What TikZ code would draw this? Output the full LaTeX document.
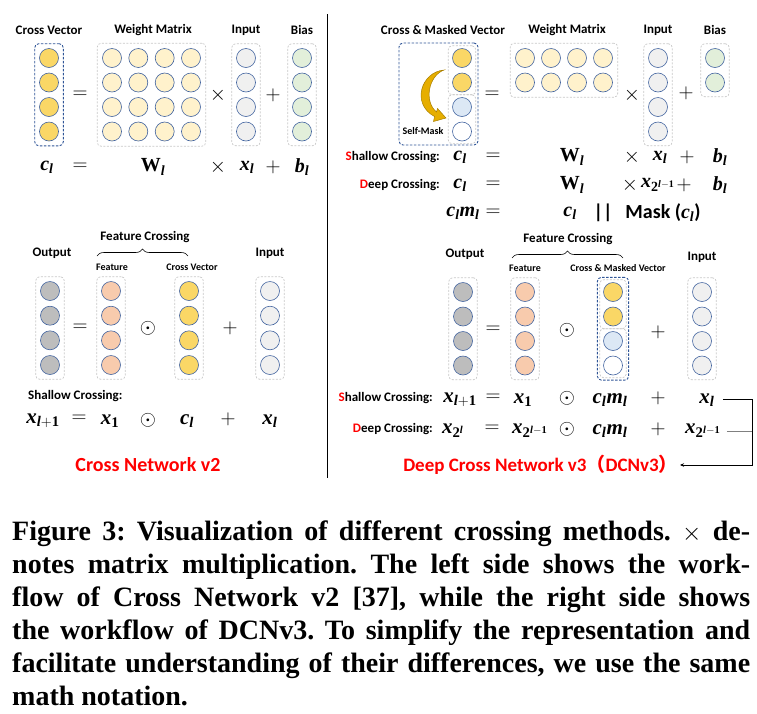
\documentclass[tikz,border=0pt]{standalone}
\usepackage{fontspec}
\setmainfont{Liberation Serif}
\newfontfamily\carl{Carlito}
\newfontfamily\cjkf{Noto Sans CJK SC}
\newfontfamily\bifam{Liberation Serif Bold Italic}[NFSSFamily=libbi]
\newfontfamily\bffam{Liberation Serif Bold}[NFSSFamily=libbf]
\DeclareMathAlphabet{\mathbi}{TU}{libbi}{m}{n}
\DeclareMathAlphabet{\mathbu}{TU}{libbf}{m}{n}
\newcommand\bi[1]{\mathbi{#1}}
\newcommand\bu[1]{\mathbu{#1}}
\usetikzlibrary{fit,arrows.meta,decorations.pathreplacing}
\definecolor{cgold}{HTML}{FAD766}
\definecolor{cwt}{HTML}{FFF2CC}
\definecolor{cin}{HTML}{F0F0F0}
\definecolor{cbias}{HTML}{E2EFDA}
\definecolor{cout}{HTML}{BDBDBD}
\definecolor{cfeat}{HTML}{F8CBAD}
\definecolor{cmask}{HTML}{DCE8F5}
\definecolor{cborder}{HTML}{41639F}
\definecolor{boxgray}{HTML}{C8C8C8}
\definecolor{boxblue}{HTML}{2F5597}
\definecolor{cred}{HTML}{FF0000}
\definecolor{arrgold}{HTML}{E6AE00}
\definecolor{arrdark}{HTML}{A87E00}
\begin{document}
\begin{tikzpicture}[x=1pt,y=-1pt,
  circ/.style={circle, draw=cborder, line width=0.6pt, minimum size=19pt, inner sep=0pt},
  gbox/.style={draw=boxgray, dash pattern=on 2pt off 1.5pt, rounded corners=4pt, line width=0.7pt},
  bbox/.style={draw=boxblue, dash pattern=on 2.5pt off 1.5pt, rounded corners=4pt, line width=0.9pt},
  lbl/.style={font=\carl\bfseries\fontsize{13}{15}\selectfont, inner sep=0pt},
  slbl/.style={font=\carl\bfseries\fontsize{10}{12}\selectfont, inner sep=0pt},
  op/.style={font=\fontsize{22}{24}\selectfont, inner sep=0pt},
  eq/.style={font=\fontsize{20}{22}\selectfont, inner sep=0pt},
  eqb/.style={font=\fontsize{21}{23}\selectfont, inner sep=0pt},
  ttl/.style={font=\carl\bfseries\fontsize{20}{24}\selectfont, text=cred, inner sep=0pt},
  conn/.style={line width=0.8pt, draw=black},
  brc/.style={decorate, decoration={brace, amplitude=7pt}, line width=0.6pt}
]
\useasboundingbox (0,0) rectangle (757,713);

% ---------------- top left ----------------
\node[lbl] (tl1) at (49,30) {Cross Vector};
\node[lbl] (tl2) at (153,30) {Weight Matrix};
\node[lbl] (tl3) at (246,30) {Input};
\node[lbl] (tl4) at (302,30) {Bias};
\foreach \i/\yy in {1/58,2/82.5,3/107,4/131.5} {
  \node[circ, fill=cgold] (tc\i) at (49,\yy) {};
  \foreach \j/\xx in {1/112,2/138.3,3/164.7,4/191} {
    \node[circ, fill=cwt] (tw\i-\j) at (\xx,\yy) {};
  }
  \node[circ, fill=cin] (ti\i) at (246,\yy) {};
  \node[circ, fill=cbias] (tb\i) at (302,\yy) {};
}
\node[bbox, fit=(tc1)(tc4), inner sep=4.5pt] (tcbox) {};
\node[gbox, fit=(tw1-1)(tw4-4), inner sep=5pt] (twbox) {};
\node[gbox, fit=(ti1)(ti4), inner sep=4.5pt] (tibox) {};
\node[gbox, fit=(tb1)(tb4), inner sep=4.5pt] (tbbox) {};
\node[op] (teq) at (80,95) {$=$};
\node[op] (tx) at (218,95) {$\times$};
\node[op] (tp) at (273,95) {$+$};
% formula
\node[eq] (f1) at (47,167) {$\bi{c}_{\bi{l}}$};
\node[op] (f2) at (80,167) {$=$};
\node[eq] (f3) at (153,167) {$\bu{W}_{\bi{l}}$};
\node[op] (f4) at (218,167) {$\times$};
\node[eq] (f5) at (247,167) {$\bi{x}_{\bi{l}}$};
\node[op] (f6) at (273,167) {$+$};
\node[eq] (f7) at (302,167) {$\bi{b}_{\bi{l}}$};

% divider
\coordinate (dvt) at (327,14);
\coordinate (dvb) at (327,478);
\draw[line width=1pt] (dvt) -- (dvb);

% ---------------- top right ----------------
\node[lbl] (rl1) at (443,30) {Cross \& Masked Vector};
\node[lbl] (rl2) at (567,30) {Weight Matrix};
\node[lbl] (rl3) at (658,30) {Input};
\node[lbl] (rl4) at (715,30) {Bias};
\node[circ, fill=cgold] (rm1) at (462,58) {};
\node[circ, fill=cgold] (rm2) at (462,82.5) {};
\node[circ, fill=cmask] (rm3) at (462,107) {};
\node[circ, fill=white] (rm4) at (462,131.5) {};
\node[gbox, fit=(rm1)(rm2), inner xsep=4pt, inner ysep=2.5pt] (rmb1) {};
\node[gbox, fit=(rm3)(rm4), inner xsep=4pt, inner ysep=2.5pt] (rmb2) {};
\node[bbox, fit={(399,43)(478,145)}, inner sep=0pt] (rmbox) {};
\filldraw[fill=arrgold, draw=arrdark, line width=0.5pt]
  (444,70) .. controls (421,72) and (411,104) .. (434.5,116.5)
  -- (433.5,121.5) -- (446,118) -- (437.5,108.5) -- (436.5,112)
  .. controls (424,102) and (428,76) .. (444,70) -- cycle;
\node[slbl] (selfm) at (423,131) {Self-Mask};
\node[op] (req) at (492,95) {$=$};
\foreach \i/\yy in {1/58,2/82.5} {
  \foreach \j/\xx in {1/525,2/551,3/577,4/603} {
    \node[circ, fill=cwt] (rw\i-\j) at (\xx,\yy) {};
  }
  \node[circ, fill=cbias] (rb\i) at (715,\yy) {};
}
\foreach \i/\yy in {1/58,2/82.5,3/107,4/131.5} {
  \node[circ, fill=cin] (ri\i) at (658,\yy) {};
}
\node[gbox, fit=(rw1-1)(rw2-4), inner sep=5pt] (rwbox) {};
\node[gbox, fit=(ri1)(ri4), inner sep=4.5pt] (ribox) {};
\node[gbox, fit=(rb1)(rb2), inner sep=4.5pt] (rbbox) {};
\node[op] (rx) at (632,95) {$\times$};
\node[op] (rp) at (686,93) {$+$};
% rows
\node[lbl, anchor=east] (rsl) at (440,157) {{\color{cred}S}hallow Crossing:};
\node[eq] (rs1) at (460,157) {$\bi{c}_{\bi{l}}$};
\node[op] (rs2) at (493,157) {$=$};
\node[eq] (rs3) at (572,157) {$\bu{W}_{\bi{l}}$};
\node[op] (rs4) at (632,157) {$\times$};
\node[eq] (rs5) at (660,157) {$\bi{x}_{\bi{l}}$};
\node[op] (rs6) at (687,157) {$+$};
\node[eq] (rs7) at (720,157) {$\bi{b}_{\bi{l}}$};
\node[lbl, anchor=east] (rdl) at (440,185) {{\color{cred}D}eep Crossing:};
\node[eq] (rd1) at (460,185) {$\bi{c}_{\bi{l}}$};
\node[op] (rd2) at (493,185) {$=$};
\node[eq] (rd3) at (572,185) {$\bu{W}_{\bi{l}}$};
\node[op] (rd4) at (630,185) {$\times$};
\node[eq] (rd5) at (658,185) {$\bi{x}_{\bu{2}^{\bi{l}-\bu{1}}}$};
\node[op] (rd6) at (684,185) {$+$};
\node[eq] (rd7) at (720,185) {$\bi{b}_{\bi{l}}$};
\node[eq] (rc1) at (463,213) {$\bi{c}_{\bi{l}}\bi{m}_{\bi{l}}$};
\node[op] (rc2) at (493,213) {$=$};
\node[eq] (rc3) at (570,213) {$\bi{c}_{\bi{l}}$};
\node[eq] (rc4) at (603,213) {\carl\bfseries ||};
\node[eq] (rc5) at (663,213) {\carl\bfseries Mask ($\bi{c}_{\bi{l}}$)};

% ---------------- bottom left ----------------
\node[lbl] (bl1) at (145,237) {Feature Crossing};
\coordinate (blb1) at (97,256);
\coordinate (blb2) at (188,256);
\draw[brc] (blb1) -- (blb2);
\node[lbl] (bl2) at (52,253) {Output};
\node[lbl] (bl3) at (270,253) {Input};
\node[slbl] (bl4) at (112,267) {Feature};
\node[slbl] (bl5) at (192,267) {Cross Vector};
\foreach \i/\yy in {1/291,2/315.7,3/340.3,4/365} {
  \node[circ, fill=cout] (lo\i) at (50,\yy) {};
  \node[circ, fill=cfeat] (lf\i) at (111,\yy) {};
  \node[circ, fill=cgold] (lc\i) at (189,\yy) {};
  \node[circ, fill=cin] (li\i) at (270,\yy) {};
}
\node[gbox, fit=(lo1)(lo4), inner sep=4.5pt] (lobox) {};
\node[gbox, fit=(lf1)(lf4), inner sep=4.5pt] (lfbox) {};
\node[gbox, fit=(lc1)(lc4), inner sep=4.5pt] (lcbox) {};
\node[gbox, fit=(li1)(li4), inner sep=4.5pt] (libox) {};
\node[op] (leq) at (80,328) {$=$};
\node[op] (lod) at (148,328) {$\odot$};
\node[op] (lp) at (230,328) {$+$};
\node[lbl, anchor=west] (lsl) at (28,396) {Shallow Crossing:};
\node[eqb] (ls1) at (43,421) {$\bi{x}_{\bi{l}+\bu{1}}$};
\node[op] (ls2) at (79,419) {$=$};
\node[eqb] (ls3) at (110,421) {$\bi{x}_{\bu{1}}$};
\node[op] (ls4) at (148,420) {$\odot$};
\node[eqb] (ls5) at (187,421) {$\bi{c}_{\bi{l}}$};
\node[op] (ls6) at (228,419) {$+$};
\node[eqb] (ls7) at (270,421) {$\bi{x}_{\bi{l}}$};
\node[ttl] (cn2) at (148,465) {Cross Network v2};

% ---------------- bottom right ----------------
\node[lbl] (br1) at (568,239) {Feature Crossing};
\coordinate (brb1) at (512,258);
\coordinate (brb2) at (623,258);
\draw[brc] (brb1) -- (brb2);
\node[lbl] (br2) at (465,254) {Output};
\node[lbl] (br3) at (702,257) {Input};
\node[slbl] (br4) at (525,268) {Feature};
\node[slbl] (br5) at (618,268) {Cross \& Masked Vector};
\foreach \i/\yy in {1/292,2/316.5,3/341,4/365.5} {
  \node[circ, fill=cout] (ro\i) at (463,\yy) {};
  \node[circ, fill=cfeat] (rf\i) at (525,\yy) {};
  \node[circ, fill=cin] (rn\i) at (702,\yy) {};
}
\node[circ, fill=cgold] (rq1) at (613,292) {};
\node[circ, fill=cgold] (rq2) at (613,316.5) {};
\node[circ, fill=cmask] (rq3) at (613,341) {};
\node[circ, fill=white] (rq4) at (613,365.5) {};
\node[gbox, fit=(ro1)(ro4), inner sep=4.5pt] (robox) {};
\node[gbox, fit=(rf1)(rf4), inner sep=4.5pt] (rfbox) {};
\node[gbox, fit=(rn1)(rn4), inner sep=4.5pt] (rnbox) {};
\node[gbox, fit=(rq1)(rq2), inner xsep=3.5pt, inner ysep=2.5pt] (rqb1) {};
\node[gbox, fit=(rq3)(rq4), inner xsep=3.5pt, inner ysep=2.5pt] (rqb2) {};
\node[bbox, fit=(rqb1)(rqb2), inner sep=2pt] (rqbox) {};
\node[op] (beq) at (493,330) {$=$};
\node[op] (bod) at (567,330) {$\odot$};
\node[op] (bp) at (658,332) {$+$};
% rows
\node[lbl, anchor=east] (bsl) at (433,398) {{\color{cred}S}hallow Crossing:};
\node[eqb] (bs1) at (460,400) {$\bi{x}_{\bi{l}+\bu{1}}$};
\node[op] (bs2) at (493,398) {$=$};
\node[eqb] (bs3) at (523,400) {$\bi{x}_{\bu{1}}$};
\node[op] (bs4) at (567,398) {$\odot$};
\node[eqb] (bs5) at (610,400) {$\bi{c}_{\bi{l}}\bi{m}_{\bi{l}}$};
\node[op] (bs6) at (658,398) {$+$};
\node[eqb] (bs7) at (707,400) {$\bi{x}_{\bi{l}}$};
\node[lbl, anchor=east] (bdl) at (433,429) {{\color{cred}D}eep Crossing:};
\node[eqb] (bd1) at (453,431) {$\bi{x}_{\bu{2}^{\bi{l}}}$};
\node[op] (bd2) at (492,429) {$=$};
\node[eqb] (bd3) at (530,431) {$\bi{x}_{\bu{2}^{\bi{l}-\bu{1}}}$};
\node[op] (bd4) at (567,429) {$\odot$};
\node[eqb] (bd5) at (610,431) {$\bi{c}_{\bi{l}}\bi{m}_{\bi{l}}$};
\node[op] (bd6) at (658,429) {$+$};
\node[eqb] (bd7) at (703,431) {$\bi{x}_{\bu{2}^{\bi{l}-\bu{1}}}$};
\node[ttl, anchor=east, font=\carl\bfseries\fontsize{19}{23}\selectfont] (dcn) at (678,465) {Deep Cross Network v3{\cjkf （}DCNv3{\cjkf ）}};
\coordinate (cr1) at (752,399);
\coordinate (cr2) at (752,465);
\coordinate (cr3) at (752,431);
\draw[conn, shorten <=8pt, shorten >=2pt, -{Stealth[length=4pt,width=3.5pt]}] (bs7.east |- cr1) -- (cr1) -- (cr2) -- (dcn.east);
\draw[line width=0.8pt, draw=gray, shorten <=6pt] (bd7.east |- cr3) -- (cr3);

% ---------------- caption ----------------
\node[anchor=base west, text width=738pt, align=justify, inner sep=0pt,
      font=\bfseries\fontsize{28}{33}\selectfont] (cap) at (12,540)
{\frenchspacing\hyphenpenalty=10000\tolerance=9999\emergencystretch=20pt
Figure 3: Visualization of different crossing methods. $\times$ de-\linebreak
notes matrix multiplication. The left side shows the work-\linebreak
flow of Cross Network v2 [37], while the right side shows\linebreak
the workflow of DCNv3. To simplify the representation and\linebreak
facilitate understanding of their differences, we use the same\linebreak
math notation.};
\end{tikzpicture}
\end{document}
